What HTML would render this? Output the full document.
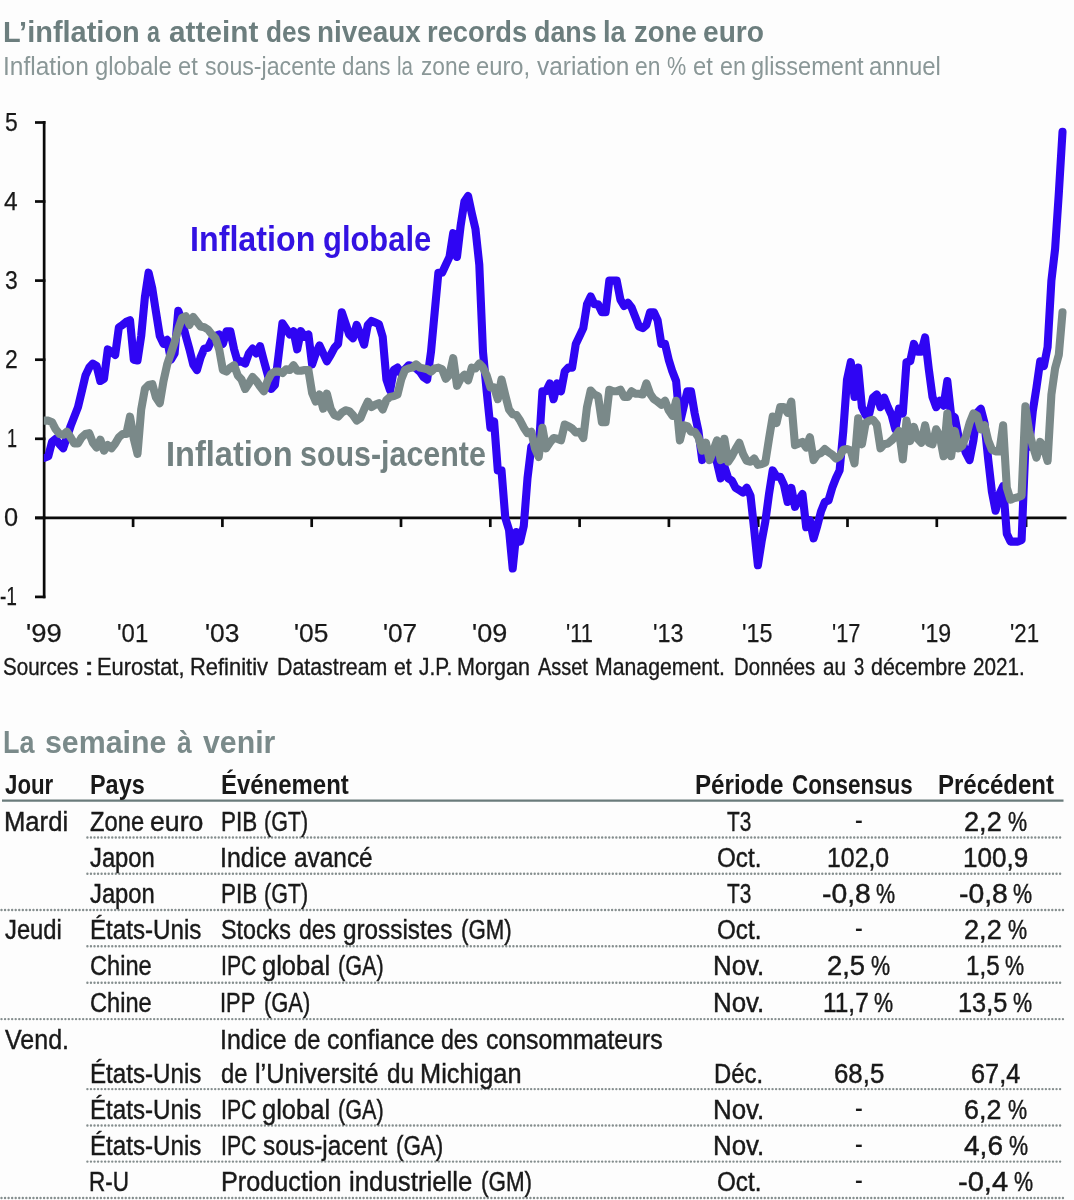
<!DOCTYPE html>
<html lang="fr">
<head>
<meta charset="utf-8">
<title>L’inflation a atteint des niveaux records dans la zone euro</title>
<style>
html,body{margin:0;padding:0;background:#fdfdfd;}
body{width:1074px;height:1200px;position:relative;overflow:hidden;font-family:"Liberation Sans", Arial, sans-serif;}
#page{position:absolute;left:0;top:0;width:1074px;height:1200px;background:#fdfdfd;overflow:hidden;}
.ln{position:absolute;left:0;width:1074px;height:1em;margin:0;padding:0;line-height:1;font-weight:400;white-space:pre;}
.ln span{position:absolute;top:0;display:block;transform-origin:0 0;white-space:pre;}
svg{position:absolute;left:0;top:0;}
</style>
</head>
<body>
<div id="page">
<header>
<h1 class="ln" style="top:16px;font-size:30.4px;color:#6c7e7e;font-weight:700;"><span style="left:3.49px;transform:scaleX(0.9533)">L’inflation</span> <span style="left:147.1px;transform:scaleX(0.7667)">a</span> <span style="left:169.3px;transform:scaleX(0.9797)">atteint</span> <span style="left:265.54px;transform:scaleX(0.8620)">des</span> <span style="left:316.97px;transform:scaleX(0.9166)">niveaux</span> <span style="left:426.5px;transform:scaleX(0.8988)">records</span> <span style="left:533.92px;transform:scaleX(0.8837)">dans</span> <span style="left:602.92px;transform:scaleX(0.8919)">la</span> <span style="left:633.99px;transform:scaleX(0.9061)">zone</span> <span style="left:703.37px;transform:scaleX(0.9255)">euro</span></h1>
<p class="ln" style="top:54px;font-size:25.3px;color:#8a9797;"><span style="left:3.46px;transform:scaleX(0.9692)">Inflation</span> <span style="left:95.46px;transform:scaleX(0.9419)">globale</span> <span style="left:177.76px;transform:scaleX(0.9368)">et</span> <span style="left:204.9px;transform:scaleX(0.9146)">sous-jacente</span> <span style="left:341.62px;transform:scaleX(0.8815)">dans</span> <span style="left:396.99px;transform:scaleX(0.8104)">la</span> <span style="left:420.7px;transform:scaleX(0.8980)">zone</span> <span style="left:476.16px;transform:scaleX(0.9390)">euro,</span> <span style="left:536.5px;transform:scaleX(0.9656)">variation</span> <span style="left:634.8px;transform:scaleX(0.9015)">en</span> <span style="left:666.7px;transform:scaleX(0.8545)">%</span> <span style="left:692.76px;transform:scaleX(0.9368)">et</span> <span style="left:719.68px;transform:scaleX(0.9168)">en</span> <span style="left:751.17px;transform:scaleX(0.9309)">glissement</span> <span style="left:869.05px;transform:scaleX(0.9462)">annuel</span></p>
</header>
<section id="chart">
<svg width="1074" height="700" viewBox="0 0 1074 700">
<defs><clipPath id="plot"><rect x="43.8" y="100" width="1031" height="520"/></clipPath></defs>
<g stroke="#0a0a0a" stroke-width="2.7" fill="none">
<line x1="44.15" x2="44.15" y1="121.1" y2="598.3"/>
<line x1="35" x2="1066.5" y1="517.85" y2="517.85"/>
<line x1="35" x2="45.4" y1="122.5" y2="122.5"/><line x1="35" x2="45.4" y1="201.5" y2="201.5"/><line x1="35" x2="45.4" y1="280.6" y2="280.6"/><line x1="35" x2="45.4" y1="359.7" y2="359.7"/><line x1="35" x2="45.4" y1="438.8" y2="438.8"/><line x1="35" x2="45.4" y1="517.9" y2="517.9"/><line x1="35" x2="45.4" y1="596.9" y2="596.9"/>
<line x1="133.1" x2="133.1" y1="517.85" y2="527.0500000000001"/><line x1="222.4" x2="222.4" y1="517.85" y2="527.0500000000001"/><line x1="311.7" x2="311.7" y1="517.85" y2="527.0500000000001"/><line x1="401.0" x2="401.0" y1="517.85" y2="527.0500000000001"/><line x1="490.3" x2="490.3" y1="517.85" y2="527.0500000000001"/><line x1="579.6" x2="579.6" y1="517.85" y2="527.0500000000001"/><line x1="668.9" x2="668.9" y1="517.85" y2="527.0500000000001"/><line x1="758.2" x2="758.2" y1="517.85" y2="527.0500000000001"/><line x1="847.5" x2="847.5" y1="517.85" y2="527.0500000000001"/><line x1="936.8" x2="936.8" y1="517.85" y2="527.0500000000001"/><line x1="1026.1" x2="1026.1" y1="517.85" y2="527.0500000000001"/>
</g>
<g fill="none" stroke-linejoin="round" stroke-linecap="round" stroke-width="8.1" clip-path="url(#plot)">
<polyline stroke="#2f05f3" points="44.6,457.7 48.3,456.2 52.0,441.9 55.7,438.8 59.5,444.3 63.2,448.3 66.9,437.2 70.6,426.1 74.3,416.6 78.0,407.1 81.8,391.3 85.5,375.5 89.2,367.6 92.9,363.6 96.6,366.0 100.3,381.0 104.0,378.7 107.8,349.4 111.5,351.8 115.2,354.9 118.9,327.3 122.6,324.9 126.3,321.7 130.0,320.2 133.8,359.7 137.5,360.5 141.2,336.0 144.9,297.2 148.6,272.7 152.3,288.5 156.0,312.2 159.8,336.0 163.5,343.9 167.2,339.9 170.9,359.7 174.6,353.4 178.3,310.7 182.1,321.7 185.8,336.0 189.5,349.4 193.2,364.4 196.9,370.0 200.6,357.3 204.3,348.6 208.1,347.8 211.8,339.9 215.5,336.0 219.2,334.4 222.9,343.9 226.6,331.2 230.3,331.2 234.1,349.4 237.8,362.1 241.5,361.3 245.2,363.6 248.9,353.4 252.6,348.6 256.4,353.4 260.1,346.2 263.8,360.5 267.5,373.9 271.2,388.9 274.9,385.0 278.6,354.9 282.4,323.3 286.1,328.8 289.8,334.4 293.5,331.2 297.2,349.4 300.9,331.2 304.7,336.8 308.4,334.4 312.1,364.4 315.8,353.4 319.5,345.5 323.2,353.4 326.9,361.3 330.7,354.9 334.4,347.8 338.1,343.9 341.8,312.2 345.5,323.3 349.2,334.4 352.9,338.3 356.7,324.9 360.4,334.4 364.1,344.7 367.8,324.9 371.5,320.9 375.2,322.5 378.9,324.1 382.7,336.8 386.4,379.5 390.1,390.5 393.8,370.0 397.5,367.6 401.2,373.9 405.0,369.2 408.7,365.2 412.4,366.0 416.1,368.4 419.8,371.6 423.5,377.1 427.2,379.5 431.0,351.8 434.7,312.2 438.4,272.7 442.1,272.7 445.8,264.8 449.5,256.9 453.2,233.2 457.0,256.9 460.7,225.3 464.4,201.5 468.1,196.0 471.8,213.4 475.5,229.2 479.3,264.8 483.0,351.8 486.7,391.3 490.4,427.7 494.1,421.4 497.8,470.4 501.5,470.4 505.3,517.9 509.0,529.7 512.7,568.5 516.4,532.1 520.1,541.6 523.8,525.8 527.5,478.3 531.3,446.7 535.0,442.7 538.7,450.6 542.4,391.3 546.1,391.3 549.8,383.4 553.6,399.2 557.3,383.4 561.0,391.3 564.7,371.6 568.4,367.6 572.1,367.6 575.8,343.9 579.6,336.0 583.3,328.1 587.0,304.3 590.7,296.4 594.4,304.3 598.1,304.3 601.9,312.2 605.6,312.2 609.3,280.6 613.0,280.6 616.7,280.6 620.4,299.6 624.1,305.9 627.9,302.8 631.6,307.5 635.3,317.0 639.0,326.5 642.7,328.1 646.4,324.9 650.1,312.2 653.9,312.2 657.6,320.2 661.3,343.9 665.0,343.9 668.7,359.7 672.4,371.6 676.1,381.0 679.9,423.0 683.6,407.1 687.3,391.3 691.0,391.3 694.7,413.5 698.4,430.9 702.2,460.1 705.9,448.3 709.6,454.6 713.3,454.6 717.0,462.5 720.7,478.3 724.4,466.4 728.2,478.3 731.9,480.7 735.6,487.8 739.3,490.2 743.0,492.5 746.7,487.8 750.5,495.7 754.2,529.7 757.9,565.3 761.6,541.6 765.3,521.8 769.0,494.1 772.7,470.4 776.5,476.7 780.2,476.7 783.9,484.6 787.6,502.0 791.3,487.8 795.0,506.8 798.7,499.7 802.5,494.1 806.2,527.3 809.9,520.2 813.6,538.4 817.3,525.8 821.0,511.5 824.8,502.0 828.5,500.5 832.2,487.8 835.9,478.3 839.6,470.4 843.3,430.9 847.0,379.5 850.8,362.1 854.5,396.9 858.2,367.6 861.9,407.1 865.6,415.0 869.3,413.5 873.0,397.6 876.8,394.5 880.5,407.1 884.2,397.6 887.9,407.1 891.6,415.0 895.3,429.3 899.0,408.7 902.8,413.5 906.5,362.1 910.2,361.3 913.9,343.9 917.6,351.8 921.3,351.8 925.1,337.5 928.8,369.2 932.5,396.9 936.2,407.1 939.9,400.8 943.6,405.6 947.3,381.0 951.1,415.0 954.8,417.4 958.5,436.4 962.2,441.1 965.9,453.0 969.6,460.1 973.4,440.4 977.1,412.7 980.8,408.7 984.5,423.0 988.2,459.3 991.9,491.8 995.6,510.7 999.4,494.1 1003.1,486.2 1006.8,533.7 1010.5,541.6 1014.2,541.6 1017.9,541.6 1021.6,540.0 1025.4,446.7 1029.1,446.7 1032.8,411.1 1036.5,387.4 1040.2,361.3 1043.9,366.0 1047.6,347.0 1051.4,280.6 1055.1,249.0 1058.8,193.6 1062.5,131.9"/>
<polyline stroke="#7a8989" points="44.6,420.6 48.3,420.6 52.0,422.2 55.7,429.3 59.5,434.0 63.2,434.8 66.9,431.7 70.6,437.2 74.3,443.5 78.0,443.5 81.8,437.2 85.5,434.0 89.2,433.2 92.9,442.7 96.6,447.5 100.3,439.6 104.0,450.6 107.8,445.1 111.5,448.3 115.2,443.5 118.9,437.2 122.6,434.0 126.3,434.0 130.0,416.6 133.8,438.8 137.5,453.8 141.2,409.5 144.9,388.9 148.6,385.0 152.3,384.2 156.0,397.6 159.8,403.2 163.5,381.0 167.2,364.4 170.9,353.4 174.6,342.3 178.3,328.8 182.1,317.8 185.8,316.2 189.5,324.9 193.2,317.0 196.9,321.7 200.6,326.5 204.3,327.3 208.1,329.6 211.8,334.4 215.5,338.3 219.2,349.4 222.9,370.0 226.6,371.6 230.3,367.6 234.1,365.2 237.8,375.5 241.5,379.5 245.2,388.9 248.9,383.4 252.6,377.1 256.4,381.0 260.1,386.6 263.8,391.3 267.5,381.0 271.2,373.9 274.9,371.6 278.6,371.6 282.4,373.1 286.1,369.2 289.8,370.0 293.5,365.2 297.2,370.8 300.9,370.8 304.7,370.0 308.4,370.0 312.1,392.9 315.8,401.6 319.5,394.5 323.2,408.7 326.9,393.7 330.7,408.7 334.4,415.0 338.1,416.6 341.8,412.7 345.5,410.3 349.2,411.1 352.9,415.0 356.7,420.6 360.4,418.2 364.1,409.5 367.8,401.6 371.5,407.1 375.2,404.8 378.9,403.2 382.7,409.5 386.4,400.0 390.1,396.9 393.8,396.1 397.5,394.5 401.2,379.5 405.0,370.0 408.7,368.4 412.4,367.6 416.1,364.4 419.8,367.6 423.5,368.4 427.2,369.2 431.0,371.6 434.7,368.4 438.4,367.6 442.1,369.2 445.8,378.7 449.5,374.7 453.2,358.1 457.0,385.8 460.7,378.7 464.4,374.7 468.1,380.3 471.8,367.6 475.5,368.4 479.3,363.6 483.0,367.6 486.7,375.5 490.4,387.4 494.1,387.4 497.8,399.2 501.5,379.5 505.3,395.3 509.0,409.5 512.7,414.3 516.4,415.0 520.1,420.6 523.8,427.7 527.5,433.2 531.3,431.7 535.0,448.3 538.7,457.0 542.4,427.7 546.1,448.3 549.8,442.7 553.6,438.0 557.3,438.8 561.0,440.4 564.7,424.5 568.4,426.1 572.1,428.5 575.8,432.4 579.6,431.7 583.3,438.0 587.0,407.1 590.7,390.5 594.4,394.5 598.1,396.1 601.9,422.2 605.6,422.2 609.3,389.7 613.0,391.3 616.7,391.3 620.4,389.7 624.1,396.9 627.9,396.9 631.6,391.3 635.3,393.7 639.0,393.7 642.7,394.5 646.4,383.4 650.1,393.7 653.9,399.2 657.6,401.6 661.3,404.8 665.0,400.8 668.7,410.3 672.4,415.8 676.1,400.8 679.9,440.4 683.6,425.3 687.3,426.1 691.0,431.7 694.7,431.7 698.4,437.2 702.2,450.6 705.9,442.7 709.6,460.1 713.3,450.6 717.0,440.4 720.7,460.1 724.4,438.8 728.2,461.7 731.9,456.2 735.6,449.1 739.3,442.7 743.0,453.8 746.7,460.9 750.5,461.7 754.2,458.5 757.9,464.9 761.6,464.1 765.3,462.5 769.0,438.8 772.7,416.6 776.5,423.0 780.2,407.1 783.9,407.1 787.6,412.7 791.3,401.6 795.0,445.1 798.7,443.5 802.5,441.9 806.2,447.5 809.9,437.2 813.6,460.1 817.3,454.6 821.0,453.0 824.8,449.1 828.5,452.2 832.2,454.6 835.9,458.5 839.6,456.2 843.3,449.8 847.0,449.1 850.8,450.6 854.5,463.3 858.2,418.2 861.9,444.3 865.6,423.0 869.3,420.6 873.0,419.8 876.8,424.5 880.5,448.3 884.2,444.3 887.9,443.5 891.6,440.4 895.3,436.4 899.0,430.9 902.8,459.3 906.5,420.6 910.2,441.1 913.9,426.9 917.6,438.8 921.3,442.7 925.1,425.3 928.8,442.7 932.5,444.3 936.2,429.3 939.9,436.4 943.6,456.2 947.3,413.5 951.1,456.2 954.8,430.9 958.5,448.3 962.2,445.9 965.9,436.4 969.6,423.0 973.4,413.5 977.1,415.8 980.8,429.3 984.5,425.3 988.2,440.4 991.9,449.8 995.6,451.4 999.4,451.4 1003.1,425.3 1006.8,487.8 1010.5,499.7 1014.2,498.1 1017.9,497.3 1021.6,495.7 1025.4,406.3 1029.1,430.9 1032.8,445.9 1036.5,457.7 1040.2,441.9 1043.9,448.3 1047.6,460.9 1051.4,394.5 1055.1,368.4 1058.8,354.9 1062.5,312.2"/>
</g>
</svg>
<div class="ln" style="top:109px;font-size:26.4px;color:#191919;-webkit-text-stroke:0.25px #191919;"><span style="left:4.83px;transform:scaleX(0.8692)">5</span></div>
<div class="ln" style="top:188px;font-size:26.4px;color:#191919;-webkit-text-stroke:0.25px #191919;"><span style="left:4px;transform:scaleX(0.9286)">4</span></div>
<div class="ln" style="top:267px;font-size:26.4px;color:#191919;-webkit-text-stroke:0.25px #191919;"><span style="left:4.83px;transform:scaleX(0.8692)">3</span></div>
<div class="ln" style="top:346px;font-size:26.4px;color:#191919;-webkit-text-stroke:0.25px #191919;"><span style="left:4.83px;transform:scaleX(0.8692)">2</span></div>
<div class="ln" style="top:425px;font-size:26.4px;color:#191919;-webkit-text-stroke:0.25px #191919;"><span style="left:7.03px;transform:scaleX(0.6833)">1</span></div>
<div class="ln" style="top:504px;font-size:26.4px;color:#191919;-webkit-text-stroke:0.25px #191919;"><span style="left:3.54px;transform:scaleX(0.9615)">0</span></div>
<div class="ln" style="top:583px;font-size:26.4px;color:#191919;-webkit-text-stroke:0.25px #191919;"><span style="left:0.47px;transform:scaleX(0.7252)">-1</span></div>
<div class="ln" style="top:620px;font-size:26.4px;color:#191919;-webkit-text-stroke:0.25px #191919;"><span style="left:25.86px;transform:scaleX(1.0393)">'99</span></div>
<div class="ln" style="top:620px;font-size:26.4px;color:#191919;-webkit-text-stroke:0.25px #191919;"><span style="left:117.34px;transform:scaleX(0.9078)">'01</span></div>
<div class="ln" style="top:620px;font-size:26.4px;color:#191919;-webkit-text-stroke:0.25px #191919;"><span style="left:204.95px;transform:scaleX(0.9995)">'03</span></div>
<div class="ln" style="top:620px;font-size:26.4px;color:#191919;-webkit-text-stroke:0.25px #191919;"><span style="left:294.15px;transform:scaleX(0.9995)">'05</span></div>
<div class="ln" style="top:620px;font-size:26.4px;color:#191919;-webkit-text-stroke:0.25px #191919;"><span style="left:383.46px;transform:scaleX(0.9934)">'07</span></div>
<div class="ln" style="top:620px;font-size:26.4px;color:#191919;-webkit-text-stroke:0.25px #191919;"><span style="left:472.13px;transform:scaleX(1.0240)">'09</span></div>
<div class="ln" style="top:620px;font-size:26.4px;color:#191919;-webkit-text-stroke:0.25px #191919;"><span style="left:565.52px;transform:scaleX(0.8291)">'11</span></div>
<div class="ln" style="top:620px;font-size:26.4px;color:#191919;-webkit-text-stroke:0.25px #191919;"><span style="left:652.91px;transform:scaleX(0.8864)">'13</span></div>
<div class="ln" style="top:620px;font-size:26.4px;color:#191919;-webkit-text-stroke:0.25px #191919;"><span style="left:742.11px;transform:scaleX(0.8864)">'15</span></div>
<div class="ln" style="top:620px;font-size:26.4px;color:#191919;-webkit-text-stroke:0.25px #191919;"><span style="left:832.37px;transform:scaleX(0.8253)">'17</span></div>
<div class="ln" style="top:620px;font-size:26.4px;color:#191919;-webkit-text-stroke:0.25px #191919;"><span style="left:920.67px;transform:scaleX(0.8773)">'19</span></div>
<div class="ln" style="top:620px;font-size:26.4px;color:#191919;-webkit-text-stroke:0.25px #191919;"><span style="left:1010.46px;transform:scaleX(0.8436)">'21</span></div>
<div class="ln" style="top:222px;font-size:34.2px;color:#3312e2;font-weight:700;"><span style="left:190.21px;transform:scaleX(0.9431)">Inflation</span> <span style="left:322.9px;transform:scaleX(0.9043)">globale</span></div>
<div class="ln" style="top:437px;font-size:34.2px;color:#728181;font-weight:700;"><span style="left:166px;transform:scaleX(0.9524)">Inflation</span> <span style="left:299.61px;transform:scaleX(0.8894)">sous-jacente</span></div>
<p class="ln" style="top:655px;font-size:23.9px;color:#191919;-webkit-text-stroke:0.35px #191919;"><span style="left:3.34px;transform:scaleX(0.8605)">Sources</span> <span style="left:84.03px;transform:scaleX(1.5333)">:</span> <span style="left:97.48px;transform:scaleX(0.9153)">Eurostat,</span> <span style="left:189.98px;transform:scaleX(0.9176)">Refinitiv</span> <span style="left:277.21px;transform:scaleX(0.8941)">Datastream</span> <span style="left:394.11px;transform:scaleX(0.8866)">et</span> <span style="left:418.8px;transform:scaleX(0.8727)">J.P.</span> <span style="left:456.9px;transform:scaleX(0.9020)">Morgan</span> <span style="left:537.7px;transform:scaleX(0.8351)">Asset</span> <span style="left:595.41px;transform:scaleX(0.8895)">Management.</span> <span style="left:733.65px;transform:scaleX(0.8491)">Données</span> <span style="left:823.24px;transform:scaleX(0.8647)">au</span> <span style="left:853.7px;transform:scaleX(0.7692)">3</span> <span style="left:870.6px;transform:scaleX(0.8966)">décembre</span> <span style="left:973.13px;transform:scaleX(0.8662)">2021.</span></p>
</section>
<section id="agenda">
<svg width="1074" height="1200" viewBox="0 0 1074 1200">
<line x1="2" x2="1063.5" y1="800.6" y2="800.6" stroke="#6a7b7b" stroke-width="2.4"/>
<g stroke="#858e8e" stroke-width="2.4" stroke-linecap="round" stroke-dasharray="0.01 3.54" fill="none">
<line x1="87.4" x2="1063" y1="837.5" y2="837.5"/>
<line x1="87.4" x2="1063" y1="873.7" y2="873.7"/>
<line x1="1.5" x2="1063" y1="910.0" y2="910.0"/>
<line x1="87.4" x2="1063" y1="946.3" y2="946.3"/>
<line x1="87.4" x2="1063" y1="982.7" y2="982.7"/>
<line x1="1.5" x2="1063" y1="1019.1" y2="1019.1"/>
<line x1="87.4" x2="1063" y1="1089.1" y2="1089.1"/>
<line x1="87.4" x2="1063" y1="1125.5" y2="1125.5"/>
<line x1="87.4" x2="1063" y1="1161.6" y2="1161.6"/>
<line x1="1.5" x2="1063" y1="1198.0" y2="1198.0"/>
</g>
</svg>
<h2 class="ln" style="top:727px;font-size:31.5px;color:#7a8a8a;font-weight:700;"><span style="left:2.79px;transform:scaleX(0.8569)">La</span> <span style="left:45.04px;transform:scaleX(0.9626)">semaine</span> <span style="left:177.2px;transform:scaleX(0.8389)">à</span> <span style="left:203.1px;transform:scaleX(0.9609)">venir</span></h2>
<div class="ln" style="top:770px;font-size:28.2px;color:#191919;font-weight:700;"><span style="left:5px;transform:scaleX(0.7903)">Jour</span></div>
<div class="ln" style="top:770px;font-size:28.2px;color:#191919;font-weight:700;"><span style="left:89.67px;transform:scaleX(0.8308)">Pays</span></div>
<div class="ln" style="top:770px;font-size:28.2px;color:#191919;font-weight:700;"><span style="left:220.55px;transform:scaleX(0.8493)">Événement</span></div>
<div class="ln" style="top:770px;font-size:28.2px;color:#191919;font-weight:700;"><span style="left:694.64px;transform:scaleX(0.8563)">Période</span></div>
<div class="ln" style="top:770px;font-size:28.2px;color:#191919;font-weight:700;"><span style="left:792.31px;transform:scaleX(0.7946)">Consensus</span></div>
<div class="ln" style="top:770px;font-size:28.2px;color:#191919;font-weight:700;"><span style="left:937.65px;transform:scaleX(0.8505)">Précédent</span></div>
<div class="ln" style="top:807px;font-size:28.2px;color:#191919;-webkit-text-stroke:0.45px #191919;"><span style="left:3.98px;transform:scaleX(0.9090)">Mardi</span></div>
<div class="ln" style="top:807px;font-size:28.2px;color:#191919;-webkit-text-stroke:0.45px #191919;"><span style="left:90.4px;transform:scaleX(0.8431)">Zone</span> <span style="left:149.65px;transform:scaleX(0.9463)">euro</span></div>
<div class="ln" style="top:807px;font-size:28.2px;color:#191919;-webkit-text-stroke:0.45px #191919;"><span style="left:220.5px;transform:scaleX(0.7975)">PIB</span> <span style="left:264.24px;transform:scaleX(0.7618)">(GT)</span></div>
<div class="ln" style="top:807px;font-size:28.2px;color:#191919;-webkit-text-stroke:0.45px #191919;"><span style="left:727.1px;transform:scaleX(0.7387)">T3</span></div>
<div class="ln" style="top:805px;font-size:28.2px;color:#191919;-webkit-text-stroke:0.2px #191919;"><span style="left:854.98px;transform:scaleX(0.8250)">-</span></div>
<div class="ln" style="top:807px;font-size:28.2px;color:#191919;-webkit-text-stroke:0.45px #191919;"><span style="left:964.24px;transform:scaleX(0.9625)">2,2</span> <span style="left:1007.74px;transform:scaleX(0.7625)">%</span></div>
<div class="ln" style="top:843px;font-size:28.2px;color:#191919;-webkit-text-stroke:0.45px #191919;"><span style="left:90.3px;transform:scaleX(0.8439)">Japon</span></div>
<div class="ln" style="top:843px;font-size:28.2px;color:#191919;-webkit-text-stroke:0.45px #191919;"><span style="left:220.33px;transform:scaleX(0.8850)">Indice</span> <span style="left:293.73px;transform:scaleX(0.8653)">avancé</span></div>
<div class="ln" style="top:843px;font-size:28.2px;color:#191919;-webkit-text-stroke:0.45px #191919;"><span style="left:717.14px;transform:scaleX(0.8598)">Oct.</span></div>
<div class="ln" style="top:843px;font-size:28.2px;color:#191919;-webkit-text-stroke:0.45px #191919;"><span style="left:827.34px;transform:scaleX(0.8812)">102,0</span></div>
<div class="ln" style="top:843px;font-size:28.2px;color:#191919;-webkit-text-stroke:0.45px #191919;"><span style="left:962.75px;transform:scaleX(0.9254)">100,9</span></div>
<div class="ln" style="top:879px;font-size:28.2px;color:#191919;-webkit-text-stroke:0.45px #191919;"><span style="left:90.3px;transform:scaleX(0.8439)">Japon</span></div>
<div class="ln" style="top:879px;font-size:28.2px;color:#191919;-webkit-text-stroke:0.45px #191919;"><span style="left:220.5px;transform:scaleX(0.7975)">PIB</span> <span style="left:264.24px;transform:scaleX(0.7618)">(GT)</span></div>
<div class="ln" style="top:879px;font-size:28.2px;color:#191919;-webkit-text-stroke:0.45px #191919;"><span style="left:727.1px;transform:scaleX(0.7387)">T3</span></div>
<div class="ln" style="top:879px;font-size:28.2px;color:#191919;-webkit-text-stroke:0.45px #191919;"><span style="left:821.7px;transform:scaleX(1.0044)">-0,8</span> <span style="left:876.24px;transform:scaleX(0.7625)">%</span></div>
<div class="ln" style="top:879px;font-size:28.2px;color:#191919;-webkit-text-stroke:0.45px #191919;"><span style="left:958.7px;transform:scaleX(1.0044)">-0,8</span> <span style="left:1013.24px;transform:scaleX(0.7625)">%</span></div>
<div class="ln" style="top:915px;font-size:28.2px;color:#191919;-webkit-text-stroke:0.45px #191919;"><span style="left:5px;transform:scaleX(0.8439)">Jeudi</span></div>
<div class="ln" style="top:915px;font-size:28.2px;color:#191919;-webkit-text-stroke:0.45px #191919;"><span style="left:89.69px;transform:scaleX(0.8568)">États-Unis</span></div>
<div class="ln" style="top:915px;font-size:28.2px;color:#191919;-webkit-text-stroke:0.45px #191919;"><span style="left:220.57px;transform:scaleX(0.8264)">Stocks</span> <span style="left:298.89px;transform:scaleX(0.8117)">des</span> <span style="left:343.34px;transform:scaleX(0.8617)">grossistes</span> <span style="left:461.21px;transform:scaleX(0.7897)">(GM)</span></div>
<div class="ln" style="top:915px;font-size:28.2px;color:#191919;-webkit-text-stroke:0.45px #191919;"><span style="left:717.14px;transform:scaleX(0.8598)">Oct.</span></div>
<div class="ln" style="top:913px;font-size:28.2px;color:#191919;-webkit-text-stroke:0.2px #191919;"><span style="left:854.98px;transform:scaleX(0.8250)">-</span></div>
<div class="ln" style="top:915px;font-size:28.2px;color:#191919;-webkit-text-stroke:0.45px #191919;"><span style="left:964.24px;transform:scaleX(0.9625)">2,2</span> <span style="left:1007.74px;transform:scaleX(0.7625)">%</span></div>
<div class="ln" style="top:951px;font-size:28.2px;color:#191919;-webkit-text-stroke:0.45px #191919;"><span style="left:89.66px;transform:scaleX(0.8378)">Chine</span></div>
<div class="ln" style="top:951px;font-size:28.2px;color:#191919;-webkit-text-stroke:0.45px #191919;"><span style="left:220.59px;transform:scaleX(0.7551)">IPC</span> <span style="left:262.4px;transform:scaleX(0.9045)">global</span> <span style="left:338.23px;transform:scaleX(0.7669)">(GA)</span></div>
<div class="ln" style="top:951px;font-size:28.2px;color:#191919;-webkit-text-stroke:0.45px #191919;"><span style="left:713.26px;transform:scaleX(0.9186)">Nov.</span></div>
<div class="ln" style="top:951px;font-size:28.2px;color:#191919;-webkit-text-stroke:0.45px #191919;"><span style="left:827.08px;transform:scaleX(0.9705)">2,5</span> <span style="left:870.89px;transform:scaleX(0.7625)">%</span></div>
<div class="ln" style="top:951px;font-size:28.2px;color:#191919;-webkit-text-stroke:0.45px #191919;"><span style="left:965.89px;transform:scaleX(0.8573)">1,5</span> <span style="left:1005.34px;transform:scaleX(0.7625)">%</span></div>
<div class="ln" style="top:988px;font-size:28.2px;color:#191919;-webkit-text-stroke:0.45px #191919;"><span style="left:89.66px;transform:scaleX(0.8378)">Chine</span></div>
<div class="ln" style="top:988px;font-size:28.2px;color:#191919;-webkit-text-stroke:0.45px #191919;"><span style="left:220.45px;transform:scaleX(0.7764)">IPP</span> <span style="left:263.72px;transform:scaleX(0.7774)">(GA)</span></div>
<div class="ln" style="top:988px;font-size:28.2px;color:#191919;-webkit-text-stroke:0.45px #191919;"><span style="left:713.26px;transform:scaleX(0.9186)">Nov.</span></div>
<div class="ln" style="top:988px;font-size:28.2px;color:#191919;-webkit-text-stroke:0.45px #191919;"><span style="left:822.82px;transform:scaleX(0.8664)">11,7</span> <span style="left:874.39px;transform:scaleX(0.7625)">%</span></div>
<div class="ln" style="top:988px;font-size:28.2px;color:#191919;-webkit-text-stroke:0.45px #191919;"><span style="left:958px;transform:scaleX(0.8987)">13,5</span> <span style="left:1013.14px;transform:scaleX(0.7625)">%</span></div>
<div class="ln" style="top:1025px;font-size:28.2px;color:#191919;-webkit-text-stroke:0.45px #191919;"><span style="left:5px;transform:scaleX(0.8879)">Vend.</span></div>
<div class="ln" style="top:1025px;font-size:28.2px;color:#191919;-webkit-text-stroke:0.45px #191919;"><span style="left:220.33px;transform:scaleX(0.8850)">Indice</span> <span style="left:293.76px;transform:scaleX(0.8390)">de</span> <span style="left:327.21px;transform:scaleX(0.8900)">confiance</span> <span style="left:441.48px;transform:scaleX(0.8162)">des</span> <span style="left:486.42px;transform:scaleX(0.8805)">consommateurs</span></div>
<div class="ln" style="top:1059px;font-size:28.2px;color:#191919;-webkit-text-stroke:0.45px #191919;"><span style="left:89.69px;transform:scaleX(0.8568)">États-Unis</span></div>
<div class="ln" style="top:1059px;font-size:28.2px;color:#191919;-webkit-text-stroke:0.45px #191919;"><span style="left:220.55px;transform:scaleX(0.8458)">de</span> <span style="left:254.7px;transform:scaleX(0.8960)">l’Université</span> <span style="left:386.64px;transform:scaleX(0.8613)">du</span> <span style="left:420.4px;transform:scaleX(0.8999)">Michigan</span></div>
<div class="ln" style="top:1059px;font-size:28.2px;color:#191919;-webkit-text-stroke:0.45px #191919;"><span style="left:714.41px;transform:scaleX(0.8462)">Déc.</span></div>
<div class="ln" style="top:1059px;font-size:28.2px;color:#191919;-webkit-text-stroke:0.45px #191919;"><span style="left:833.73px;transform:scaleX(0.9157)">68,5</span></div>
<div class="ln" style="top:1059px;font-size:28.2px;color:#191919;-webkit-text-stroke:0.45px #191919;"><span style="left:971.2px;transform:scaleX(0.8988)">67,4</span></div>
<div class="ln" style="top:1095px;font-size:28.2px;color:#191919;-webkit-text-stroke:0.45px #191919;"><span style="left:89.69px;transform:scaleX(0.8568)">États-Unis</span></div>
<div class="ln" style="top:1095px;font-size:28.2px;color:#191919;-webkit-text-stroke:0.45px #191919;"><span style="left:220.59px;transform:scaleX(0.7551)">IPC</span> <span style="left:262.4px;transform:scaleX(0.9045)">global</span> <span style="left:338.23px;transform:scaleX(0.7669)">(GA)</span></div>
<div class="ln" style="top:1095px;font-size:28.2px;color:#191919;-webkit-text-stroke:0.45px #191919;"><span style="left:713.26px;transform:scaleX(0.9186)">Nov.</span></div>
<div class="ln" style="top:1093px;font-size:28.2px;color:#191919;-webkit-text-stroke:0.2px #191919;"><span style="left:854.98px;transform:scaleX(0.8250)">-</span></div>
<div class="ln" style="top:1095px;font-size:28.2px;color:#191919;-webkit-text-stroke:0.45px #191919;"><span style="left:964.4px;transform:scaleX(0.9545)">6,2</span> <span style="left:1007.59px;transform:scaleX(0.7625)">%</span></div>
<div class="ln" style="top:1131px;font-size:28.2px;color:#191919;-webkit-text-stroke:0.45px #191919;"><span style="left:89.69px;transform:scaleX(0.8568)">États-Unis</span></div>
<div class="ln" style="top:1131px;font-size:28.2px;color:#191919;-webkit-text-stroke:0.45px #191919;"><span style="left:220.59px;transform:scaleX(0.7551)">IPC</span> <span style="left:263.3px;transform:scaleX(0.8613)">sous-jacent</span> <span style="left:395.61px;transform:scaleX(0.7932)">(GA)</span></div>
<div class="ln" style="top:1131px;font-size:28.2px;color:#191919;-webkit-text-stroke:0.45px #191919;"><span style="left:713.26px;transform:scaleX(0.9186)">Nov.</span></div>
<div class="ln" style="top:1129px;font-size:28.2px;color:#191919;-webkit-text-stroke:0.2px #191919;"><span style="left:854.98px;transform:scaleX(0.8250)">-</span></div>
<div class="ln" style="top:1131px;font-size:28.2px;color:#191919;-webkit-text-stroke:0.45px #191919;"><span style="left:964.1px;transform:scaleX(0.9946)">4,6</span> <span style="left:1008.84px;transform:scaleX(0.7625)">%</span></div>
<div class="ln" style="top:1167px;font-size:28.2px;color:#191919;-webkit-text-stroke:0.45px #191919;"><span style="left:88.91px;transform:scaleX(0.7958)">R-U</span></div>
<div class="ln" style="top:1167px;font-size:28.2px;color:#191919;-webkit-text-stroke:0.45px #191919;"><span style="left:220.81px;transform:scaleX(0.8949)">Production</span> <span style="left:348.98px;transform:scaleX(0.9161)">industrielle</span> <span style="left:480.61px;transform:scaleX(0.7946)">(GM)</span></div>
<div class="ln" style="top:1167px;font-size:28.2px;color:#191919;-webkit-text-stroke:0.45px #191919;"><span style="left:717.14px;transform:scaleX(0.8598)">Oct.</span></div>
<div class="ln" style="top:1165px;font-size:28.2px;color:#191919;-webkit-text-stroke:0.2px #191919;"><span style="left:854.98px;transform:scaleX(0.8250)">-</span></div>
<div class="ln" style="top:1167px;font-size:28.2px;color:#191919;-webkit-text-stroke:0.45px #191919;"><span style="left:958.02px;transform:scaleX(1.0321)">-0,4</span> <span style="left:1013.89px;transform:scaleX(0.7625)">%</span></div>
</section>
</div>
</body>
</html>
